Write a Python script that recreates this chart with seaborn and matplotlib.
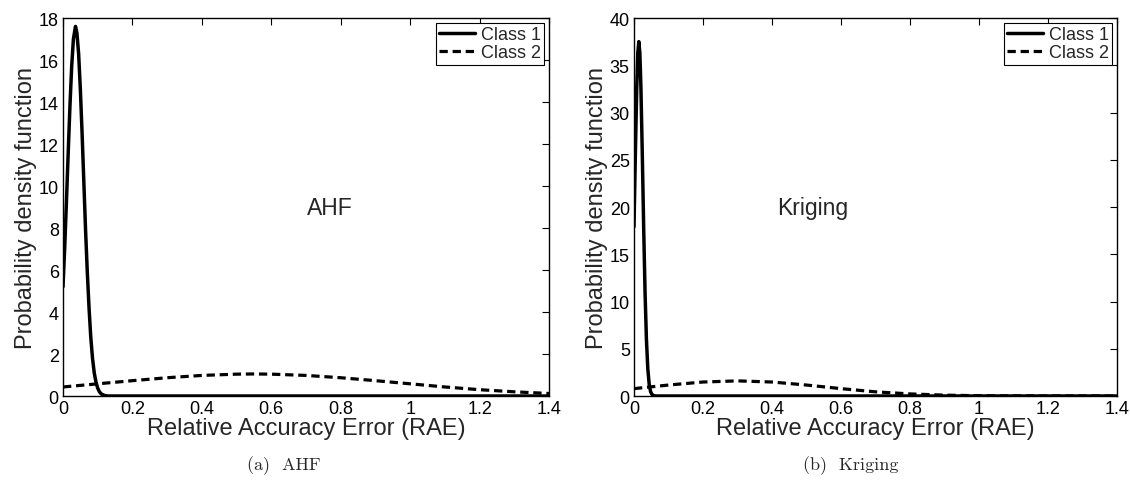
import matplotlib
matplotlib.use("Agg")
import matplotlib.pyplot as plt
import seaborn as sns
import pandas as pd

# ---------------- data ----------------
# (a) AHF
ahf_c1_x = [0, 0.005, 0.010, 0.015, 0.020, 0.025, 0.030, 0.036, 0.040, 0.045, 0.050,
            0.055, 0.060, 0.065, 0.070, 0.075, 0.080, 0.085, 0.090, 0.095, 0.100,
            0.105, 0.110, 0.120, 0.130, 0.200, 0.600, 1.000, 1.400]
ahf_c1_y = [5.2, 7.1, 9.3, 11.6, 13.8, 15.7, 17.0, 17.6, 17.3, 16.3, 14.6,
            12.5, 10.2, 7.9, 5.9, 4.2, 2.8, 1.8, 1.1, 0.66, 0.37,
            0.20, 0.10, 0.02, 0.0, 0.0, 0.0, 0.0, 0.0]
ahf_c2_x = [0, 0.1, 0.2, 0.3, 0.4, 0.5, 0.55, 0.6, 0.7, 0.8, 0.9, 1.0, 1.1, 1.2, 1.3, 1.4]
ahf_c2_y = [0.43, 0.58, 0.73, 0.87, 0.98, 1.04, 1.05, 1.04, 0.98, 0.87, 0.73, 0.58, 0.43,
            0.30, 0.20, 0.12]

# (b) Kriging
kri_c1_x = [0, 0.004, 0.008, 0.011, 0.014, 0.017, 0.020, 0.024, 0.028, 0.032, 0.036,
            0.040, 0.044, 0.048, 0.052, 0.058, 0.065, 0.200, 0.600, 1.000, 1.400]
kri_c1_y = [17.9, 25.7, 32.7, 36.3, 37.5, 36.3, 32.7, 25.7, 17.9, 11.0, 6.0,
            2.9, 1.25, 0.47, 0.16, 0.03, 0.0, 0.0, 0.0, 0.0, 0.0]
kri_c2_x = [0, 0.1, 0.2, 0.3, 0.4, 0.5, 0.6, 0.7, 0.8, 0.9, 1.0, 1.1, 1.2, 1.4]
kri_c2_y = [0.78, 1.16, 1.48, 1.60, 1.48, 1.16, 0.78, 0.44, 0.22, 0.09, 0.03, 0.01, 0.0, 0.0]

series_labels = ["Class 1", "Class 2"]
panel_names = ["AHF", "Kriging"]
captions = ["(a)  AHF", "(b)  Kriging"]
x_ticks = [0, 0.2, 0.4, 0.6, 0.8, 1, 1.2, 1.4]
x_tick_labels = ["0", "0.2", "0.4", "0.6", "0.8", "1", "1.2", "1.4"]
y_ticks_a = [0, 2, 4, 6, 8, 10, 12, 14, 16, 18]
y_ticks_b = [0, 5, 10, 15, 20, 25, 30, 35, 40]
x_label = "Relative Accuracy Error (RAE)"
y_label = "Probability density function"

# ---------------- styling ----------------
sns.set_style("white")
plt.rcParams["font.family"] = ["Liberation Sans", "DejaVu Sans"]
plt.rcParams["axes.linewidth"] = 1.0

W, H = 1130, 489
fig = plt.figure(figsize=(W / 100, H / 100), dpi=100)
# axes boxes in pixels: (left, right, top, bottom)
boxes = [(63, 549, 19, 397), (634, 1117, 19, 397)]
axes = [fig.add_axes([l / W, 1 - b / H, (r - l) / W, (b - t) / H]) for l, r, t, b in boxes]

panels = [
    (axes[0], ahf_c1_x, ahf_c1_y, ahf_c2_x, ahf_c2_y, y_ticks_a),
    (axes[1], kri_c1_x, kri_c1_y, kri_c2_x, kri_c2_y, y_ticks_b),
]
text_pos = [(0.55, 0.50), (0.37, 0.50)]
caption_x = [0.251, 0.753]

for i, (ax, x1, y1, x2, y2, yt) in enumerate(panels):
    d1 = pd.DataFrame({"x": x1, "y": y1})
    d2 = pd.DataFrame({"x": x2, "y": y2})
    sns.lineplot(data=d1, x="x", y="y", ax=ax, color="black", linewidth=2.5,
                 label=series_labels[0], sort=False)
    sns.lineplot(data=d2, x="x", y="y", ax=ax, color="black", linewidth=2.3,
                 linestyle=(0, (2.6, 1.5)), label=series_labels[1], sort=False)
    ax.set_xlim(0, 1.4)
    ax.set_ylim(yt[0], yt[-1])
    ax.set_xticks(x_ticks)
    ax.set_xticklabels(x_tick_labels)
    ax.set_yticks(yt)
    ax.tick_params(direction="in", length=5, width=0.8, top=True, right=True,
                   labelsize=13, pad=3, colors="black")
    for s in ax.spines.values():
        s.set_visible(True)
        s.set_color("black")
    ax.set_xlabel(x_label, fontsize=17, labelpad=0)
    ax.set_ylabel(y_label, fontsize=17, labelpad=1)
    leg = ax.legend(loc="upper right", fontsize=13, frameon=True, fancybox=False,
                    edgecolor="black", framealpha=1, borderpad=0.2, labelspacing=0.05,
                    handlelength=2.0, handletextpad=0.3, borderaxespad=0.25)
    leg.get_frame().set_linewidth(0.8)
    ax.text(text_pos[i][0], text_pos[i][1], panel_names[i], transform=ax.transAxes,
            fontsize=16.5, ha="center", va="center")
    fig.text(caption_x[i], 1 - 466 / H, captions[i], ha="center", va="center",
             fontsize=13, family=["cmr10", "DejaVu Serif"])

fig.savefig("out.png", dpi=100)
